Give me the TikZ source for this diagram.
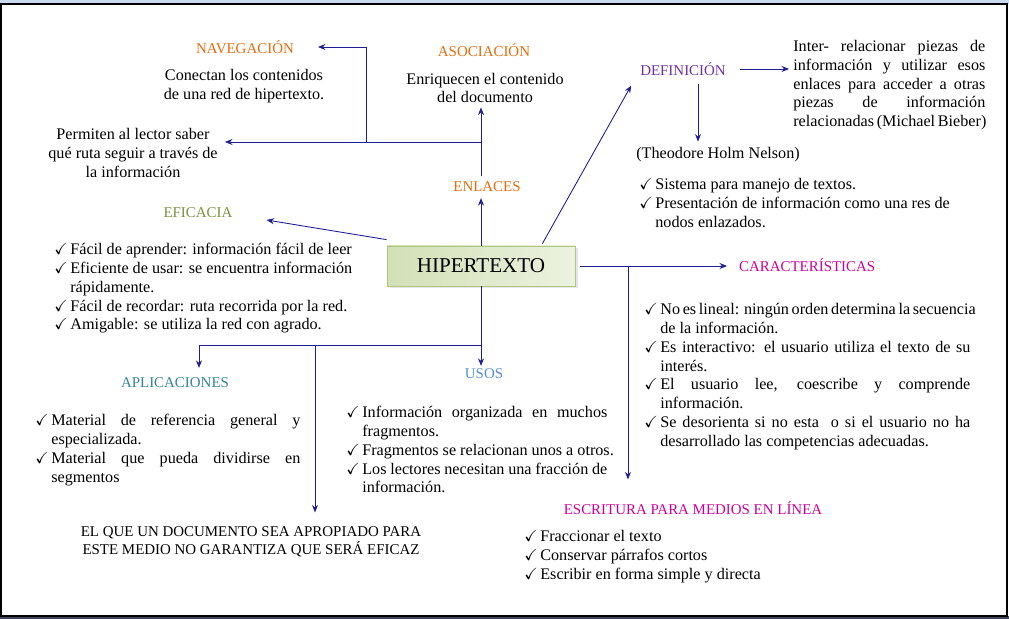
\documentclass[tikz,border=0pt]{standalone}
\usepackage{fontspec}
\setmainfont{Liberation Serif}
\usepackage{amssymb}
\usetikzlibrary{arrows.meta, positioning, calc, shadows}

\definecolor{navblue}{RGB}{30,30,150}
\definecolor{orangehd}{RGB}{228,108,10}
\definecolor{purplehd}{RGB}{112,48,160}
\definecolor{greenhd}{RGB}{118,146,60}
\definecolor{pinkhd}{RGB}{204,0,153}
\definecolor{tealhd}{RGB}{49,132,155}
\definecolor{bluehd}{RGB}{85,142,213}
\definecolor{boxleft}{RGB}{210,224,182}
\definecolor{boxright}{RGB}{236,242,224}
\definecolor{boxedge}{RGB}{175,198,130}
\definecolor{framesky}{RGB}{200,218,238}
\definecolor{framedark}{RGB}{60,70,90}

\newcommand{\chkmark}{\makebox[3.2mm][l]{$\checkmark$}}
\newcommand{\chkgap}{\hspace*{3.2mm}}
\newcommand{\fullline}[2]{\makebox[#1][s]{#2}}

\begin{document}
\begin{tikzpicture}[
    x=0.2mm, y=-0.2mm,
    head/.style={font=\fontsize{8.5}{10}\selectfont, inner sep=1pt},
    body/.style={font=\fontsize{9.2}{10.7}\selectfont, align=left, inner sep=0pt},
    caps/.style={font=\fontsize{8.5}{10.3}\selectfont, align=center, inner sep=0pt},
    hbox/.style={draw=boxedge, left color=boxleft, right color=boxright, minimum width=37.6mm, minimum height=8mm, font=\fontsize{12}{14}\selectfont, drop shadow={opacity=0.2, shadow xshift=0.5mm, shadow yshift=-0.5mm}},
    arr/.style={-{Stealth[length=1.5mm, width=1.2mm]}, navblue, line width=0.5pt},
]
    % marco de ventana
    \useasboundingbox (0,0) rectangle (1009,619);
    \fill[framesky] (0,0) rectangle (1009,4);
    \fill[framedark] (0,616) rectangle (1009,619);
    \draw[black, line width=0.35mm] (1,4) rectangle (1007,616);

    % nodo central
    \node[hbox] (hiper) at (481,266) {HIPERTEXTO};

    % enlaces, asociacion, navegacion
    \node[head, text=orangehd] (enlaces) at (487,187) {ENLACES};
    \node[head, text=orangehd] (asoc) at (484,50) {ASOCIACIÓN};
    \node[body, align=center] (asoctxt) at (485,88) {Enriquecen el contenido\\del documento};
    \node[head, text=orangehd] (nav) at (245,47) {NAVEGACIÓN};
    \node[body, align=center] (navtxt) at (244,86) {Conectan los contenidos\\de una red de hipertexto.};
    \node[body, align=center] (permtxt) at (133,153) {Permiten al lector saber\\qué ruta seguir a través de\\la información};

    % definicion
    \node[head, text=purplehd] (defin) at (683,69) {DEFINICIÓN};
    \node[body, anchor=north west] (deftxt) at (793,40) {\fullline{38.4mm}{Inter- relacionar piezas de}\\\fullline{38.4mm}{información y utilizar esos}\\\fullline{38.4mm}{enlaces para acceder a otras}\\\fullline{38.4mm}{piezas de información}\\\fullline{38.4mm}{relacionadas (Michael Bieber)}};
    \node[body, anchor=west] (theo) at (636,155) {(Theodore Holm Nelson)};
    \node[body, anchor=north west] (deflist) at (639,178) {\chkmark Sistema para manejo de textos.\\\chkmark Presentación de información como una res de\\\chkgap nodos enlazados.};

    % eficacia
    \node[head, text=greenhd] (efic) at (198,213) {EFICACIA};
    \node[body, anchor=north west] (eficlist) at (54,243) {\chkmark Fácil de aprender: información fácil de leer\\\chkmark Eficiente de usar: se encuentra información\\\chkgap rápidamente.\\\chkmark Fácil de recordar: ruta recorrida por la red.\\\chkmark Amigable: se utiliza la red con agrado.};

    % caracteristicas
    \node[head, text=pinkhd, anchor=west] (carac) at (737,265) {CARACTERÍSTICAS};
    \node[body, anchor=north west] (caraclist) at (644,303) {\chkmark\fullline{62mm}{No es lineal: ningún orden determina la secuencia}\\\chkgap de la información.\\\chkmark\fullline{62mm}{Es interactivo: el usuario utiliza el texto de su}\\\chkgap interés.\\\chkmark\fullline{62mm}{El usuario lee, coescribe y comprende}\\\chkgap información.\\\chkmark\fullline{62mm}{Se desorienta si no esta \ o si el usuario no ha}\\\chkgap desarrollado las competencias adecuadas.};

    % usos y aplicaciones
    \node[head, text=bluehd] (usos) at (484,374) {USOS};
    \node[body, anchor=north west] (usoslist) at (346,406) {\chkmark\fullline{49mm}{Información organizada en muchos}\\\chkgap fragmentos.\\\chkmark Fragmentos se relacionan unos a otros.\\\chkmark\fullline{49mm}{Los lectores necesitan una fracción de}\\\chkgap información.};
    \node[head, text=tealhd] (aplic) at (175,383) {APLICACIONES};
    \node[body, anchor=north west] (apliclist) at (35,414) {\chkmark\fullline{49.8mm}{Material de referencia general y}\\\chkgap especializada.\\\chkmark\fullline{49.8mm}{Material que pueda dividirse en}\\\chkgap segmentos};
    \node[caps] (elque) at (251,542) {EL QUE UN DOCUMENTO SEA APROPIADO PARA\\ESTE MEDIO NO GARANTIZA QUE SERÁ EFICAZ};

    % escritura
    \node[head, text=pinkhd] (escr) at (693,508) {ESCRITURA PARA MEDIOS EN LÍNEA};
    \node[body, anchor=north west] (escrlist) at (524,530) {\chkmark Fraccionar el texto\\\chkmark Conservar párrafos cortos\\\chkmark Escribir en forma simple y directa};

    % puntos de union
    \coordinate (j1) at (481,142);
    \coordinate (j2) at (366,142);
    \coordinate (jc) at (628,266);
    \coordinate (ju) at (481,345);
    \coordinate (jq) at (315,345);

    % conectores
    \draw[arr] (hiper.north) -- ($(hiper.north |- enlaces.south)+(0,4)$);
    \draw[arr] ($(hiper.north |- enlaces.north)+(0,-4)$) -- ($(hiper.north |- asoctxt.south)+(0,4)$);
    \draw[arr] (j1) -- ($(j1 -| permtxt.east)+(7,0)$);
    \draw[arr] (j2) |- ($(nav.east)+(22,0)$);
    \draw[arr] ($(hiper.north east)+(-33,-2)$) -- ($(defin.south west)+(-7,8)$);
    \draw[arr] ($(defin.east)+(12,0)$) -- ($(deftxt.west |- defin.east)+(-4,0)$);
    \draw[arr] ($(defin.south)+(15,6)$) -- ++(0,58);
    \draw[arr] ($(hiper.north west)+(0,-6)$) -- ($(efic.east)+(32,7)$);
    \draw[arr] ($(hiper.east)+(5,0)$) -- ($(carac.west |- hiper.east)+(-10,0)$);
    \draw[arr] (jc) -- ($(jc |- escr.north)+(0,-20)$);
    \draw[arr] (hiper.south) -- ($(hiper.south |- usos.north)+(0,-1)$);
    \draw[arr] (ju) -| ($(aplic.north)+(24,-8)$);
    \draw[arr] (jq) -- ($(jq |- elque.north)+(0,-14)$);
\end{tikzpicture}
\end{document}
